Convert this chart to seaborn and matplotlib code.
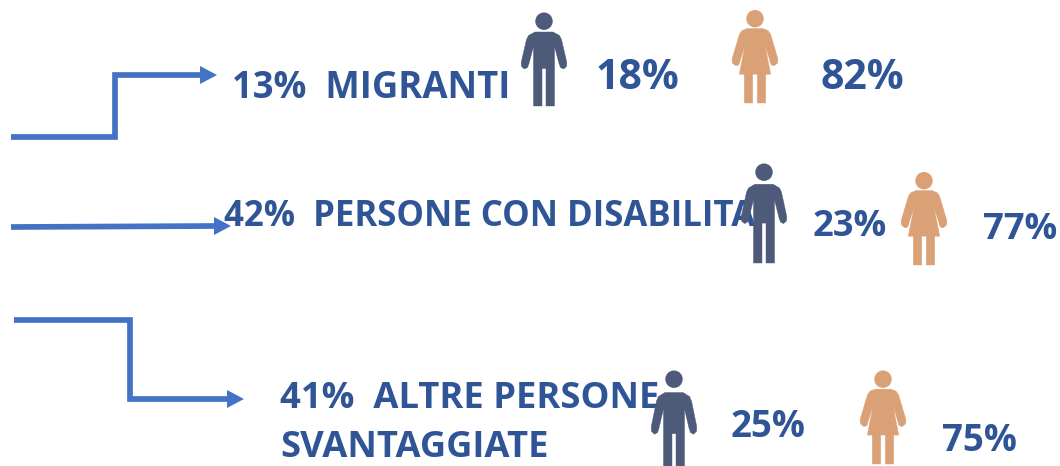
import matplotlib
matplotlib.use("Agg")
import matplotlib.pyplot as plt
from matplotlib.patches import Polygon, Circle
import numpy as np
import seaborn as sns

sns.set_theme(style="white")
plt.rcParams['font.family'] = ['Open Sans', 'DejaVu Sans']

# values
categories = ["13%  MIGRANTI", "42%  PERSONE CON DISABILITA", "41%  ALTRE PERSONE\nSVANTAGGIATE"]
men_pct = ["18%", "23%", "25%"]
women_pct = ["82%", "77%", "75%"]

# layout, in pixels of the picture
cat_pos = [(232, 98), (224, 226), (280, 457)]
men_txt = [(596, 89), (813, 236), (731, 437)]
women_txt = [(821, 89), (983, 239), (942, 451)]
txt_size = [(26.3, 29.5), (25, 26.2), (26.2, 26.4)]
men_icon = [(544, 12.5, 106), (764, 163.5, 263), (674, 370.5, 476)]
women_icon = [(755, 10, 103), (924, 172, 265), (883, 370.5, 464)]
arrow_x = [[11, 115, 115, 202], [11, 216], [14, 130, 130, 229]]
arrow_y = [[137, 137, 75, 75], [227, 226], [320, 320, 399, 399]]
tip_x = [217, 231, 244]

BLUE = "#2F5597"
ARROW = "#4472C4"
MAN = "#4D5A7A"
WOMAN = "#DBA176"

# half outline of each figure, drawn for a 93 px tall icon
man_half = [(0, 19.5), (9, 19.5), (15.5, 23), (17.5, 27), (22.8, 50), (22.5, 54), (19.5, 56.5), (16.5, 55),
            (15, 51), (10.5, 34), (10.5, 93.5), (2, 93.5), (2, 56), (0, 56)]
woman_half = [(0, 18.5), (8, 18.5), (13, 20.5), (15.5, 24), (23, 49), (22.5, 53), (19, 55.7), (16, 54.5),
              (15, 51), (10, 35), (15.7, 64), (10.7, 64), (10.7, 92.7), (2.3, 92.7), (2.3, 64), (0, 64)]


def draw_icon(ax, half, cx, top, bottom, color, z=4):
    half = np.array(half, dtype=float)
    full = np.vstack([half, (half * [-1, 1])[::-1]])
    sy = (bottom - top) / half[:, 1].max()
    pts = np.column_stack([cx + full[:, 0], top + full[:, 1] * sy])
    ax.add_patch(Polygon(pts, closed=True, fc=color, ec=color, lw=0.3, joinstyle="round", zorder=z))
    ax.add_patch(Circle((cx, top + 8.7), 8.7, fc=color, ec="none", zorder=z))


fig = plt.figure(figsize=(10.6, 4.66), dpi=100)
ax = fig.add_axes([0, 0, 1, 1])
ax.set_xlim(0, 1060)
ax.set_ylim(466, 0)
ax.axis("off")

for i in range(3):
    sns.lineplot(x=arrow_x[i], y=arrow_y[i], sort=False, estimator=None, color=ARROW, lw=4.1, ax=ax,
                 solid_joinstyle="miter", solid_capstyle="butt", legend=False, zorder=2)
    ye = arrow_y[i][-1]
    xe = arrow_x[i][-1]
    ax.add_patch(Polygon([(xe - 2, ye - 9), (tip_x[i], ye), (xe - 2, ye + 9)], fc=ARROW, ec="none", zorder=2))

    ax.text(cat_pos[i][0], cat_pos[i][1], categories[i], color=BLUE, fontsize=txt_size[i][0], fontweight="bold",
            va="baseline", ha="left", linespacing=1.48, zorder=3)
    ax.text(men_txt[i][0], men_txt[i][1], men_pct[i], color=BLUE, fontsize=txt_size[i][1], fontweight="bold",
            va="baseline", ha="left", zorder=3)
    ax.text(women_txt[i][0], women_txt[i][1], women_pct[i], color=BLUE, fontsize=txt_size[i][1], fontweight="bold",
            va="baseline", ha="left", zorder=3)

    draw_icon(ax, man_half, men_icon[i][0], men_icon[i][1], men_icon[i][2], MAN)
    draw_icon(ax, woman_half, women_icon[i][0], women_icon[i][1], women_icon[i][2], WOMAN)

fig.savefig("out.png", dpi=100)
